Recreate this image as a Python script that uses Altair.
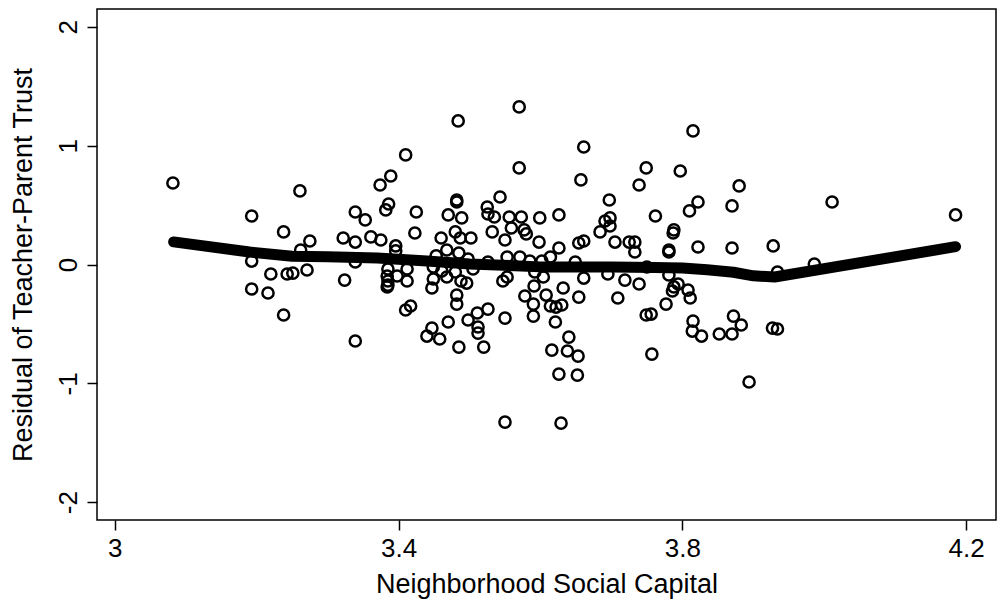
import altair as alt
import pandas as pd

# Scatter points: Neighborhood Social Capital vs residual of teacher-parent trust
xs = [
    3.082, 3.193, 3.193, 3.193, 3.216, 3.220, 3.238, 3.238, 3.243, 3.251,
    3.261, 3.262, 3.271, 3.275,
    3.410, 3.389, 3.374, 3.386, 3.382, 3.339, 3.353, 3.425, 3.423, 3.322,
    3.339, 3.361, 3.375, 3.396, 3.396, 3.339, 3.324, 3.385, 3.384, 3.385,
    3.385, 3.384, 3.398, 3.412, 3.412, 3.410, 3.417, 3.339, 3.440,
    3.484, 3.570, 3.661, 3.570, 3.657, 3.543, 3.697, 3.482, 3.482, 3.470,
    3.489, 3.525, 3.526, 3.535, 3.556, 3.573, 3.599, 3.626, 3.577, 3.580,
    3.559, 3.460, 3.480, 3.487, 3.502, 3.532, 3.550, 3.598, 3.626, 3.654,
    3.661, 3.705, 3.725, 3.733, 3.468, 3.453, 3.485, 3.553, 3.571, 3.614,
    3.449, 3.461, 3.498, 3.505, 3.526, 3.585, 3.602, 3.649,
    3.449, 3.468, 3.480, 3.488, 3.496, 3.547, 3.553, 3.604, 3.661, 3.695,
    3.719, 3.592, 3.447, 3.482, 3.482, 3.591, 3.578, 3.608, 3.590, 3.632,
    3.654, 3.709, 3.614, 3.622, 3.630, 3.590, 3.621, 3.470, 3.498, 3.511,
    3.526, 3.550, 3.512, 3.512, 3.447, 3.458, 3.485, 3.520, 3.640, 3.616,
    3.638, 3.653, 3.626, 3.652, 3.550, 3.629,
    3.815, 3.749, 3.797, 3.739, 3.880, 3.822, 3.810, 3.870, 4.011, 3.762,
    3.691, 3.698, 3.698, 3.684, 3.788, 3.787, 3.733, 3.781, 3.781, 3.822,
    3.870, 3.928, 3.986, 3.934, 3.739, 3.750, 3.781, 3.794, 3.786, 3.788,
    3.808, 3.811, 3.777, 3.749, 3.756, 3.815, 3.814, 3.827, 3.852, 3.870,
    3.872, 3.883, 3.927, 3.934, 3.757, 3.894, 4.185,
]
ys = [
    0.686, 0.408, 0.029, -0.206, -0.240, -0.080, 0.274, -0.425, -0.080, -0.072,
    0.619, 0.122, -0.046, 0.198,
    0.922, 0.745, 0.669, 0.509, 0.459, 0.442, 0.375, 0.442, 0.265, 0.223,
    0.189, 0.232, 0.206, 0.156, 0.114, 0.021, -0.131, -0.038, -0.097, -0.139,
    -0.173, -0.189, -0.097, -0.038, -0.139, -0.383, -0.349, -0.644, -0.602,
    1.208, 1.326, 0.989, 0.813, 0.712, 0.568, 0.543, 0.543, 0.526, 0.417,
    0.392, 0.484, 0.425, 0.400, 0.400, 0.400, 0.392, 0.417, 0.291, 0.257,
    0.307, 0.223, 0.274, 0.223, 0.223, 0.274, 0.206, 0.189, 0.139, 0.181,
    0.198, 0.189, 0.189, 0.189, 0.122, 0.072, 0.097, 0.063, 0.063, 0.063,
    -0.021, -0.055, 0.046, -0.038, 0.021, 0.029, 0.029, 0.021,
    -0.122, -0.105, -0.063, -0.139, -0.156, -0.139, -0.105, -0.105, -0.114, -0.080,
    -0.131, -0.063, -0.198, -0.257, -0.333, -0.181, -0.265, -0.257, -0.333, -0.198,
    -0.274, -0.282, -0.349, -0.358, -0.341, -0.434, -0.484, -0.484, -0.467, -0.408,
    -0.375, -0.451, -0.526, -0.577, -0.535, -0.627, -0.695, -0.695, -0.611, -0.720,
    -0.728, -0.771, -0.922, -0.931, -1.326, -1.335,
    1.124, 0.813, 0.787, 0.669, 0.661, 0.526, 0.451, 0.493, 0.526, 0.408,
    0.366, 0.392, 0.324, 0.274, 0.291, 0.265, 0.105, 0.122, 0.105, 0.147,
    0.139, 0.156, 0.004, -0.063, -0.164, -0.021, -0.088, -0.164, -0.223, -0.189,
    -0.215, -0.282, -0.333, -0.425, -0.417, -0.476, -0.560, -0.602, -0.585, -0.585,
    -0.434, -0.509, -0.535, -0.543, -0.754, -0.989, 0.417,
]

# Smoothed (lowess-like) curve
line_x = [3.083, 3.19, 3.25, 3.30, 3.37, 3.44, 3.50, 3.60, 3.70, 3.76, 3.80,
          3.835, 3.872, 3.90, 3.93, 4.185]
line_y = [0.19, 0.105, 0.07, 0.065, 0.055, 0.03, 0.005, -0.02, -0.022, -0.025,
          -0.03, -0.045, -0.065, -0.095, -0.105, 0.15]

x_ticks = [3, 3.4, 3.8, 4.2]
y_ticks = [-2, -1, 0, 1, 2]

pts = pd.DataFrame({"x": xs, "y": ys})
smooth = pd.DataFrame({"x": line_x, "y": line_y})

FONT = "Liberation Sans"

xscale = alt.Scale(domain=[2.975, 4.242], nice=False, zero=False)
yscale = alt.Scale(domain=[-2.15, 2.15], nice=False, zero=False)

xaxis = alt.Axis(
    values=x_ticks, labelExpr="'' + datum.value", grid=False, domain=False,
    tickSize=10, tickWidth=1.5, tickColor="black",
    labelFontSize=26, labelFont=FONT, labelColor="black", labelPadding=5,
    title="Neighborhood Social Capital", titleFontSize=27, titleFont=FONT,
    titleFontWeight="normal", titleColor="black", titlePadding=10,
)
yaxis = alt.Axis(
    values=y_ticks, labelExpr="'' + datum.value", grid=False, domain=False,
    tickSize=10, tickWidth=1.5, tickColor="black",
    labelFontSize=26, labelFont=FONT, labelColor="black", labelPadding=6,
    labelAngle=270, labelAlign="center", labelBaseline="bottom",
    title="Residual of Teacher-Parent Trust", titleFontSize=27, titleFont=FONT,
    titleFontWeight="normal", titleColor="black", titlePadding=18,
)

points = alt.Chart(pts).mark_point(
    shape="circle", filled=False, color="black", strokeWidth=2.5, size=125, opacity=1
).encode(
    x=alt.X("x:Q", scale=xscale, axis=xaxis),
    y=alt.Y("y:Q", scale=yscale, axis=yaxis),
)

curve = alt.Chart(smooth).mark_line(
    color="black", strokeWidth=11, strokeCap="round", strokeJoin="round",
    interpolate="linear"
).encode(
    x=alt.X("x:Q", scale=xscale),
    y=alt.Y("y:Q", scale=yscale),
)

chart = alt.layer(points, curve).properties(
    width=899, height=511,
    autosize=alt.AutoSizeParams(type="none"),
    padding={"left": 97, "top": 9, "right": 4, "bottom": 82},
    background="white",
).configure_view(
    stroke="black", strokeWidth=1.5
)

chart.save("out.html", embed_options={"renderer": "svg", "actions": False})
